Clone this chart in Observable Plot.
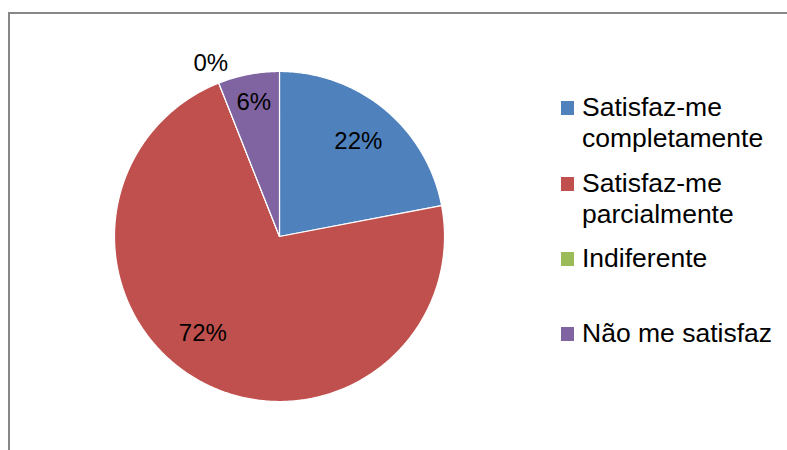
<!DOCTYPE html>
<html>
<head>
<meta charset="utf-8">
<script src="https://cdn.jsdelivr.net/npm/d3@7"></script>
<script src="https://cdn.jsdelivr.net/npm/@observablehq/plot@0.6"></script>
<style>
  body { margin: 0; background: #fff; font-family: "Liberation Sans", Arial, sans-serif; }
  #wrap { position: relative; width: 787px; height: 450px; overflow: hidden; }
  #frame { position: absolute; left: 8px; top: 12px; width: 800px; height: 460px;
           border-left: 2px solid #878787; border-top: 2px solid #878787; }
  #chart { position: absolute; left: 0; top: 0; }
  .item { position: absolute; left: 561px; }
  .sw { position: absolute; left: 0; width: 13px; height: 14px; }
  .lab { position: absolute; left: 21px; font-size: 26.5px; line-height: 31px; color: #000; white-space: nowrap; }
</style>
</head>
<body>
<div id="wrap">
  <div id="frame"></div>
  <div id="chart"></div>
  <div id="legend"></div>
</div>
<script>
const categories = ["Satisfaz-me completamente", "Satisfaz-me parcialmente", "Indiferente", "Não me satisfaz"];
const legendLines = [["Satisfaz-me", "completamente"], ["Satisfaz-me", "parcialmente"], ["Indiferente"], ["Não me satisfaz"]];
const values = [22, 72, 0, 6];
const colors = ["#4F81BD", "#C0504D", "#9BBB59", "#8064A2"];

const arcs = d3.pie().sort(null).value(d => d)(values);

// polygon outline of each slice, in unit-circle coordinates (angle 0 = 12 o'clock, clockwise)
const slicePts = [];
arcs.forEach((a, i) => {
  const cat = categories[i];
  slicePts.push({x: 0, y: 0, cat});
  const n = Math.max(1, Math.ceil((a.endAngle - a.startAngle) / (Math.PI / 360)));
  for (let k = 0; k <= n; k++) {
    const t = a.startAngle + (a.endAngle - a.startAngle) * k / n;
    slicePts.push({x: Math.sin(t), y: Math.cos(t), cat});
  }
});

// label anchor: inside the slice; large slices (> half) bias toward their far side like Excel's best fit
const labels = arcs.map((a, i) => {
  const span = a.endAngle - a.startAngle;
  const mid = (a.startAngle + a.endAngle) / 2 + (span > Math.PI ? 0.12 * (span - Math.PI) : 0);
  const r = values[i] === 0 ? 1.13 : values[i] < 10 ? 0.83 : 0.75;
  return {x: r * Math.sin(mid), y: r * Math.cos(mid), text: values[i] + "%"};
});

const cx = 279, cy = 236, R = 165;
const chart = Plot.plot({
  width: 787,
  height: 450,
  margin: 0,
  x: {domain: [-1, 1], range: [cx - R, cx + R], axis: null},
  y: {domain: [-1, 1], range: [cy + R, cy - R], axis: null},
  color: {domain: categories, range: colors},
  style: {background: "transparent", fontFamily: "Liberation Sans, Arial, sans-serif"},
  marks: [
    Plot.line(slicePts, {x: "x", y: "y", z: "cat", fill: "cat", stroke: "#fff", strokeWidth: 1.2, curve: "linear-closed"}),
    Plot.text(labels, {x: "x", y: "y", text: "text", fontSize: 24, fill: "#000", textAnchor: "middle", lineAnchor: "middle"})
  ]
});
document.getElementById("chart").appendChild(chart);

const swTops = [101, 177, 252, 327];
const legend = document.getElementById("legend");
categories.forEach((c, i) => {
  const it = document.createElement("div");
  it.className = "item";
  it.style.top = swTops[i] + "px";
  const sw = document.createElement("div");
  sw.className = "sw";
  sw.style.top = "0px";
  sw.style.background = colors[i];
  const lab = document.createElement("div");
  lab.className = "lab";
  lab.style.top = "-9px";
  lab.innerHTML = legendLines[i].join("<br>");
  it.appendChild(sw);
  it.appendChild(lab);
  legend.appendChild(it);
});
</script>
</body>
</html>
